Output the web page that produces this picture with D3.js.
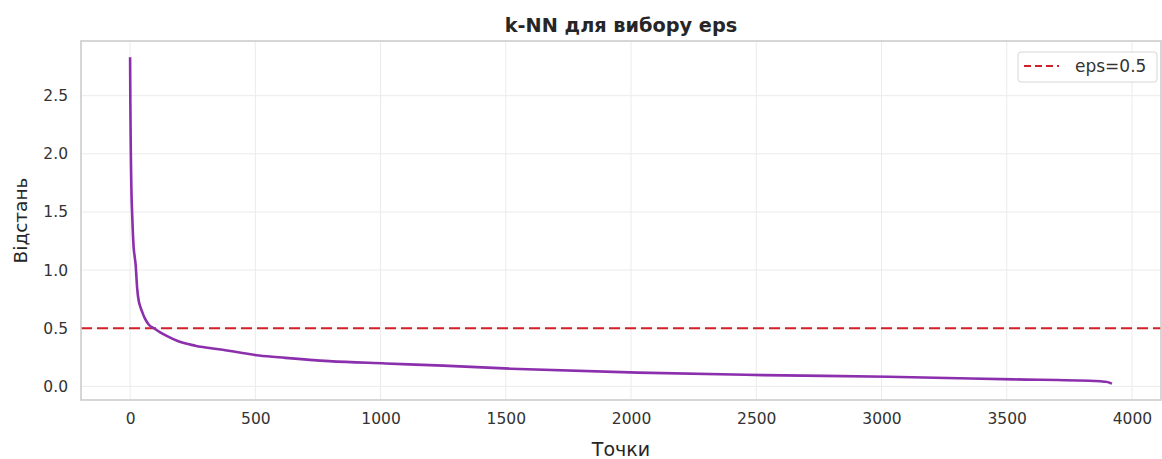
<!DOCTYPE html>
<html>
<head>
<meta charset="utf-8">
<script src="https://cdn.jsdelivr.net/npm/d3@7.9.0/dist/d3.min.js"></script>
<style>
  html, body { margin: 0; padding: 0; background: #fff; }
  svg { display: block; font-family: "DejaVu Sans", sans-serif; }
</style>
</head>
<body>
<svg id="chart" width="1162" height="459"></svg>
<script>
// sorted k-distances (point index, distance)
const pointIndex = [0, 1, 2, 3, 4, 5, 6, 8, 10, 14, 18, 22, 28, 34, 40, 50, 60, 75, 95, 120, 150, 190, 260, 370, 515, 620, 795, 1020, 1250, 1520, 2028, 2528, 3028, 3528, 3850, 3890, 3910, 3920];
const distance   = [2.83, 2.45, 2.2, 2.0, 1.85, 1.72, 1.62, 1.5, 1.38, 1.2, 1.12, 1.05, 0.85, 0.74, 0.69, 0.63, 0.58, 0.53, 0.5, 0.465, 0.43, 0.39, 0.35, 0.315, 0.265, 0.245, 0.217, 0.197, 0.178, 0.152, 0.118, 0.097, 0.082, 0.06, 0.046, 0.04, 0.032, 0.023];
const xTicks = [0, 500, 1000, 1500, 2000, 2500, 3000, 3500, 4000];
const yTicks = [0.0, 0.5, 1.0, 1.5, 2.0, 2.5];
const epsValue = 0.5;
const epsLabel = 'eps=0.5';

const margin = { left: 81, right: 1, top: 41, bottom: 59 };
const W = 1162, H = 459;

const svg = d3.select('#chart');

const points = pointIndex.map((d, i) => ({ x: d, y: distance[i] }));

// matplotlib-ish 5% margins
let xExt = d3.extent(pointIndex);
let yExt = d3.extent(distance);
let xPad = (xExt[1] - xExt[0]) * 0.05;
let yPad = (yExt[1] - yExt[0]) * 0.05;

let x = d3.scaleLinear()
    .domain([xExt[0] - xPad, xExt[1] + xPad])
    .range([margin.left, W - margin.right]);
let y = d3.scaleLinear()
    .domain([yExt[0] - yPad, yExt[1] + yPad])
    .range([H - margin.bottom, margin.top]);

// grid
svg.append('g')
    .selectAll('line')
    .data(xTicks)
    .join('line')
    .attr('x1', d => x(d)).attr('x2', d => x(d))
    .attr('y1', margin.top).attr('y2', H - margin.bottom)
    .attr('stroke', '#ebebeb').attr('stroke-width', 1);
svg.append('g')
    .selectAll('line')
    .data(yTicks)
    .join('line')
    .attr('y1', d => y(d)).attr('y2', d => y(d))
    .attr('x1', margin.left).attr('x2', W - margin.right)
    .attr('stroke', '#ebebeb').attr('stroke-width', 1);

// axes (labels only, seaborn whitegrid has no tick marks)
let xAxis = svg.append('g')
    .attr('transform', `translate(0,${H - margin.bottom})`)
    .call(d3.axisBottom(x).tickValues(xTicks).tickSize(0).tickPadding(13).tickFormat(d3.format('d')));
let yAxis = svg.append('g')
    .attr('transform', `translate(${margin.left},0)`)
    .call(d3.axisLeft(y).tickValues(yTicks).tickSize(0).tickPadding(13).tickFormat(d3.format('.1f')));
[xAxis, yAxis].forEach(a => {
    a.select('.domain').remove();
    a.selectAll('text').attr('font-size', 15.5).attr('fill', '#333').attr('font-family', '"DejaVu Sans", sans-serif');
});

// eps line
svg.append('line')
    .attr('x1', margin.left).attr('x2', W - margin.right)
    .attr('y1', y(epsValue)).attr('y2', y(epsValue))
    .attr('stroke', '#d0202a').attr('stroke-width', 2)
    .attr('stroke-dasharray', '11,5');

// k-distance curve
let line = d3.line().x(d => x(d.x)).y(d => y(d.y)).curve(d3.curveMonotoneX);
svg.append('path')
    .datum(points)
    .attr('d', line)
    .attr('fill', 'none')
    .attr('stroke', '#8b2fad')
    .attr('stroke-width', 2.6)
    .attr('stroke-linejoin', 'round');

// frame
svg.append('rect')
    .attr('x', margin.left).attr('y', margin.top)
    .attr('width', W - margin.right - margin.left)
    .attr('height', H - margin.bottom - margin.top)
    .attr('fill', 'none').attr('stroke', '#cccccc').attr('stroke-width', 1.6);

// title and labels
svg.append('text')
    .attr('x', (margin.left + W - margin.right) / 2).attr('y', 32)
    .attr('text-anchor', 'middle')
    .attr('font-size', 19.3).attr('font-weight', 'bold').attr('fill', '#262626')
    .text('k-NN для вибору eps');
svg.append('text')
    .attr('x', (margin.left + W - margin.right) / 2).attr('y', 456)
    .attr('text-anchor', 'middle')
    .attr('font-size', 19).attr('fill', '#262626')
    .text('Точки');
svg.append('text')
    .attr('transform', `translate(27,${(margin.top + H - margin.bottom) / 2}) rotate(-90)`)
    .attr('text-anchor', 'middle')
    .attr('font-size', 18.5).attr('fill', '#262626')
    .text('Відстань');

// legend
let lg = svg.append('g').attr('transform', 'translate(1018,52)');
lg.append('rect')
    .attr('width', 139).attr('height', 30).attr('rx', 3)
    .attr('fill', '#fff').attr('fill-opacity', 0.8)
    .attr('stroke', '#d6d6d6').attr('stroke-width', 1);
lg.append('line')
    .attr('x1', 6).attr('x2', 41).attr('y1', 14).attr('y2', 14)
    .attr('stroke', '#d0202a').attr('stroke-width', 2)
    .attr('stroke-dasharray', '7,4');
lg.append('text')
    .attr('x', 57).attr('y', 20)
    .attr('font-size', 17).attr('fill', '#333')
    .text(epsLabel);
</script>
</body>
</html>
